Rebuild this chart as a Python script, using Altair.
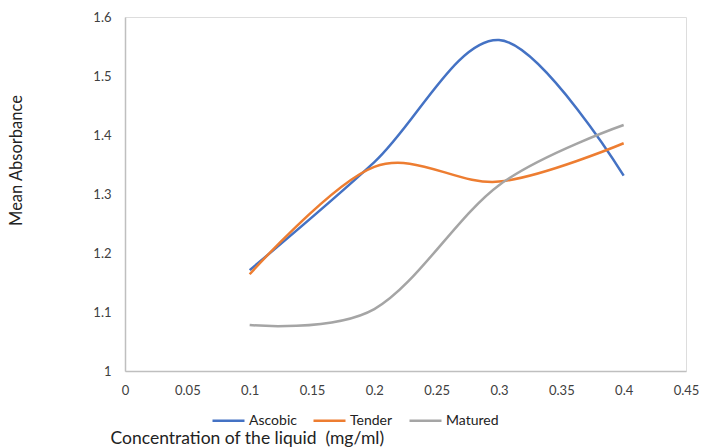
import altair as alt
import pandas as pd

conc = [0.1, 0.2, 0.3, 0.4]
ascobic = [1.171, 1.354, 1.561, 1.331]
tender = [1.164, 1.346, 1.321, 1.386]
matured = [1.078, 1.105, 1.315, 1.417]
series = ["Ascobic", "Tender", "Matured"]
colors = ["#4472C4", "#ED7D31", "#A5A5A5"]
x_ticks = [0, 0.05, 0.1, 0.15, 0.2, 0.25, 0.3, 0.35, 0.4, 0.45]
y_ticks = [1, 1.1, 1.2, 1.3, 1.4, 1.5, 1.6]

rows = []
for name, vals in zip(series, [ascobic, tender, matured]):
    for c, v in zip(conc, vals):
        rows.append({"conc": c, "value": v, "series": name})
df = pd.DataFrame(rows)

FONT = "Lato"
TXT = "#404040"

chart = alt.Chart(df).mark_line(
    interpolate="cardinal", tension=0, strokeWidth=2.5, clip=False
).encode(
    x=alt.X(
        "conc:Q",
        scale=alt.Scale(domain=[0, 0.45], nice=False, zero=False),
        axis=alt.Axis(
            values=x_ticks, format=".2~f", grid=False, ticks=False,
            domainColor="#BFBFBF", domainWidth=1.5,
            labelFont=FONT, labelFontSize=13, labelColor=TXT, labelPadding=13,
            labelFlush=False,
            title="Concentration of the liquid\u00a0 (mg/ml)",
            titleFont=FONT, titleFontSize=17.5, titleFontWeight="normal", titleColor="#222",
            titleAnchor="start", titleAlign="left", titleX=-15, titleY=67,
            titleBaseline="middle",
        ),
    ),
    y=alt.Y(
        "value:Q",
        scale=alt.Scale(domain=[1, 1.6], nice=False, zero=False),
        axis=alt.Axis(
            values=y_ticks, format=".1~f", grid=False, ticks=False,
            domainColor="#BFBFBF", domainWidth=1.5,
            labelFont=FONT, labelFontSize=13, labelColor=TXT, labelPadding=14,
            labelFlush=False,
            title="Mean Absorbance",
            titleFont=FONT, titleFontSize=16.5, titleFontWeight="normal", titleColor="#222",
            titleAngle=270, titleX=-109, titleY=143, titleAlign="center",
            titleBaseline="middle",
        ),
    ),
    color=alt.Color(
        "series:N",
        sort=series,
        scale=alt.Scale(domain=series, range=colors),
        legend=alt.Legend(
            title=None, orient="none", direction="horizontal",
            legendX=86, legendY=386, padding=0,
            symbolType="stroke", symbolSize=1024, symbolStrokeWidth=2.5,
            labelFont=FONT, labelFontSize=14, labelColor="#222", labelOffset=3,
            columnPadding=11,
        ),
    ),
).properties(
    width=561, height=354,
    autosize=alt.AutoSizeParams(type="none"),
    padding={"left": 125, "top": 17, "right": 15, "bottom": 76},
).configure_view(stroke=None).configure(background="white")

chart.save("out.html", embed_options={"renderer": "svg", "actions": False})
